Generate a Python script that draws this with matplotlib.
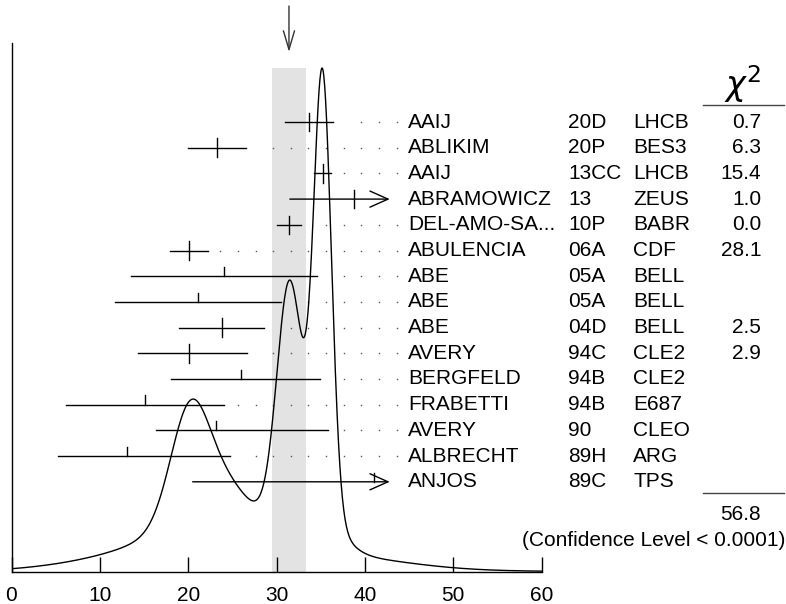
import numpy as np
import matplotlib
matplotlib.use('Agg')
import matplotlib.pyplot as plt
from matplotlib.transforms import blended_transform_factory
from matplotlib.lines import Line2D

plt.rcParams['font.family'] = ['Liberation Sans', 'DejaVu Sans']
plt.rcParams['mathtext.fontset'] = 'dejavusans'

# measurements, top to bottom
names = ["AAIJ", "ABLIKIM", "AAIJ", "ABRAMOWICZ", "DEL-AMO-SA...", "ABULENCIA", "ABE", "ABE",
         "ABE", "AVERY", "BERGFELD", "FRABETTI", "AVERY", "ALBRECHT", "ANJOS"]
years = ["20D", "20P", "13CC", "13", "10P", "06A", "05A", "05A",
         "04D", "94C", "94B", "94B", "90", "89H", "89C"]
exps = ["LHCB", "BES3", "LHCB", "ZEUS", "BABR", "CDF", "BELL", "BELL",
        "BELL", "CLE2", "CLE2", "E687", "CLEO", "ARG", "TPS"]
chi2 = ["0.7", "6.3", "15.4", "1.0", "0.0", "28.1", "", "",
        "2.5", "2.9", "", "", "", "", ""]
values = [33.65, 23.25, 35.2, 38.8, 31.4, 20.1, 24.0, 21.1,
          23.8, 20.1, 26.0, 15.1, 23.1, 13.1, 41.0]
err_lo = [2.7, 3.25, 1.0, 7.3, 1.4, 2.15, 10.5, 9.4,
          4.8, 5.8, 8.0, 8.9, 6.7, 7.8, 20.5]
err_hi = [2.7, 3.3, 1.0, None, 1.4, 2.1, 10.55, 9.4,
          4.8, 6.6, 8.9, 8.9, 12.7, 11.6, None]   # None -> arrow

avg = 31.4
avg_err = 1.95
chi2_total = "56.8"
conf_text = "(Confidence Level < 0.0001)"
title_text = "31.4\u00b12.0 (Error scaled by 2.8)"

W, H = 786, 604
fig = plt.figure(figsize=(W / 100, H / 100), dpi=100)

def fx(px):
    return px / W

def fy(py):
    return 1 - py / H

# main axes: rows are integer y positions
base_px, top_px, row0_px, row_px = 572, 43, 122, 25.7
ax = fig.add_axes([fx(11.5), fy(base_px), fx(541.7) - fx(11.5), fy(top_px) - fy(base_px)])
ax.set_xlim(0, 60)
ax.set_ylim((base_px - row0_px) / row_px, (top_px - row0_px) / row_px)
for s in ['top', 'right']:
    ax.spines[s].set_visible(False)
ax.spines['left'].set_linewidth(1.0)
ax.spines['bottom'].set_linewidth(1.0)
ax.set_yticks([])
ax.set_xticks(range(0, 61, 10))
ax.tick_params(axis='x', direction='in', length=10.5, width=1.0, pad=10, labelsize=15)

# ideogram
xs = np.linspace(0, 60, 1201)
curve = np.zeros_like(xs)
for v, lo, hi in zip(values, err_lo, err_hi):
    if hi is None:
        hi = lo
    sig = 0.5 * (lo + hi)
    s = np.where(xs < v, lo, hi)
    curve += np.exp(-0.5 * ((xs - v) / s) ** 2) / sig ** 2
peak_px = 68
frac = (base_px - peak_px) / (base_px - top_px)

# weighted average band
ax.axvspan(avg - avg_err, avg + avg_err, ymin=0, ymax=frac, color='#e3e3e3', lw=0, zorder=0)

arrow_end = 42.8
dot_grid = 43.57 - 1.993 * np.arange(0, 22)
dot_grid = dot_grid[dot_grid > 0]
for i, (v, lo, hi, c) in enumerate(zip(values, err_lo, err_hi, chi2)):
    left = v - lo
    if hi is None:
        right = arrow_end
        ax.annotate('', xy=(arrow_end, i), xytext=(left, i),
                    arrowprops=dict(arrowstyle='->,head_length=1.3,head_width=0.58',
                                    lw=1.0, color='black', shrinkA=0, shrinkB=0,
                                    mutation_scale=10))
    else:
        right = v + hi
        ax.plot([left, right], [i, i], color='black', lw=1.0)
    if c:
        ax.plot([v, v], [i - 0.36, i + 0.36], color='black', lw=1.0)
    else:
        ax.plot([v, v], [i - 0.36, i], color='black', lw=1.0)
    d = dot_grid[dot_grid > right + 1.3]
    ax.plot(d, np.full_like(d, i), ls='none', marker='s', ms=1.0, mew=0, color='#555555')

cx = ax.twinx()
cx.set_ylim(0, curve.max() / frac)
cx.set_yticks([])
for s in cx.spines.values():
    s.set_visible(False)
cx.plot(xs, curve, color='black', lw=1.0)

# text columns
tr = blended_transform_factory(fig.transFigure, ax.transData)
for i in range(len(names)):
    ax.text(fx(408), i, names[i], transform=tr, va='center', fontsize=15)
    ax.text(fx(568), i, years[i], transform=tr, va='center', fontsize=15)
    ax.text(fx(633), i, exps[i], transform=tr, va='center', fontsize=15)
    if chi2[i]:
        ax.text(fx(761), i, chi2[i], transform=tr, va='center', ha='right', fontsize=15)

fig.text(fx(743), fy(84), r'$\chi^2$', ha='center', va='center', fontsize=24)
fig.add_artist(Line2D([fx(703), fx(784)], [fy(105), fy(105)], color='#444444', lw=1.0))
fig.add_artist(Line2D([fx(703), fx(784)], [fy(493), fy(493)], color='#444444', lw=1.0))
fig.text(fx(761), fy(515), chi2_total, ha='right', va='center', fontsize=15)
fig.text(fx(785), fy(540), conf_text, ha='right', va='center', fontsize=15)

# arrow pointing at the average, title mostly off the top edge
ax.annotate('', xy=(avg, fy(52)), xytext=(avg, fy(6)),
            xycoords=blended_transform_factory(ax.transData, fig.transFigure),
            arrowprops=dict(arrowstyle='->,head_length=1.35,head_width=0.4',
                            lw=1.0, color='#333333', shrinkA=0, shrinkB=0,
                            mutation_scale=10))
fig.text(fx(305), fy(-4), title_text, ha='right', va='baseline', fontsize=15)

fig.savefig('out.png', dpi=100)
